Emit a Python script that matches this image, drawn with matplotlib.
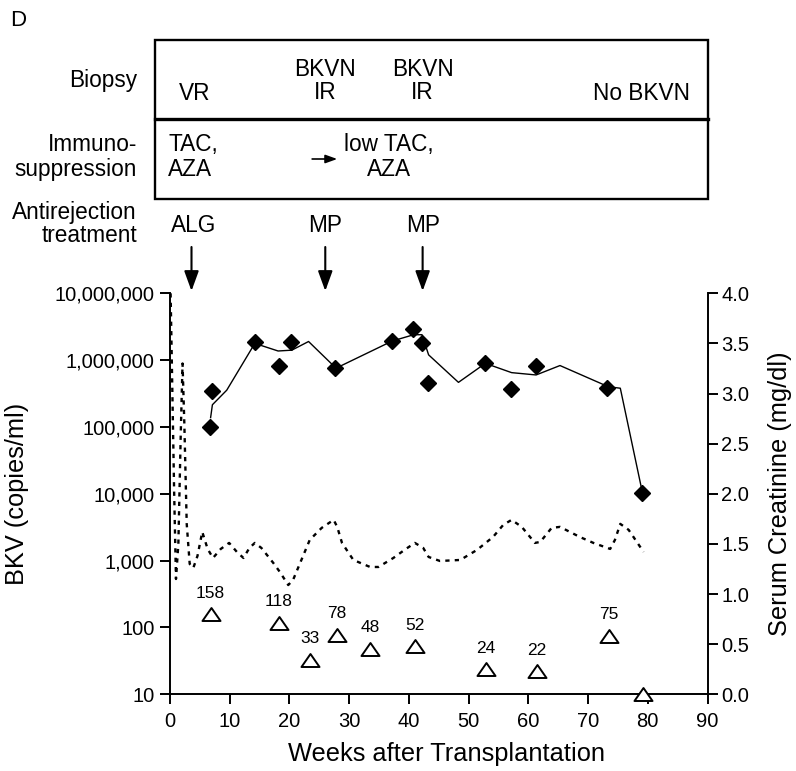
import matplotlib
matplotlib.use("Agg")
import matplotlib.pyplot as plt
from matplotlib.patches import Rectangle
from matplotlib.path import Path
from matplotlib.ticker import FixedLocator, NullLocator

plt.rcParams["font.family"] = ["Liberation Sans", "DejaVu Sans"]

# BKV load in plasma (diamonds) and its trend line
bkv_weeks = [6.7, 7.1, 14.3, 18.2, 20.2, 27.7, 37.2, 40.7, 42.2, 43.2,
             52.7, 57.1, 61.2, 73.2, 79.0]
bkv_copies = [100000, 347000, 1870000, 830000, 1900000, 763000, 1940000,
              2930000, 1830000, 460000, 913000, 370000, 830000, 380000, 10200]

trend_weeks = [6.8, 7.1, 9.5, 14.2, 18.1, 20.4, 23.2, 27.8, 37.2, 40.8, 42.2,
               43.3, 48.3, 52.8, 57.2, 61.3, 65.3, 73.4, 75.4, 79.0]
trend_copies = [138000, 215000, 355000, 1780000, 1370000, 1410000, 1900000,
                758000, 1930000, 2400000, 2400000, 1200000, 465000, 895000,
                650000, 600000, 830000, 400000, 380000, 11500]

# open triangles with their printed values
tri_weeks = [6.8, 18.2, 23.4, 27.9, 33.5, 41.0, 52.9, 61.4, 73.5, 79.2]
tri_values = [158, 118, 33, 78, 48, 52, 24, 22, 75, 10]
tri_labels = ["158", "118", "33", "78", "48", "52", "24", "22", "75", ""]

# serum creatinine (dotted, right axis)
crea_weeks = [0.1, 0.4, 0.7, 1.0, 1.4, 1.8, 2.1, 2.4, 2.8, 3.3, 3.9, 4.6, 5.4,
              6.3, 7.2, 8.5, 9.9, 11.2, 12.3, 13.3, 14.2, 15.3, 17.3, 18.4,
              19.8, 20.6, 22.0, 23.4, 25.4, 27.4, 28.0, 28.8, 30.7, 33.5,
              34.9, 37.4, 39.5, 41.0, 42.4, 43.3, 45.2, 48.6, 51.4, 54.1,
              55.8, 57.2, 58.9, 61.1, 62.0, 63.9, 65.3, 68.6, 70.9, 73.7,
              74.5, 75.4, 76.8, 79.3]
crea_mgdl = [4.0, 3.0, 2.0, 1.15, 1.5, 2.6, 3.3, 2.7, 1.7, 1.3, 1.26, 1.38, 1.62,
             1.45, 1.36, 1.45, 1.51, 1.42, 1.36, 1.46, 1.51, 1.46, 1.31, 1.22,
             1.09, 1.14, 1.34, 1.54, 1.66, 1.74, 1.67, 1.51, 1.34, 1.27,
             1.27, 1.36, 1.45, 1.51, 1.46, 1.37, 1.33, 1.34, 1.44, 1.57,
             1.69, 1.74, 1.67, 1.51, 1.52, 1.66, 1.67, 1.57, 1.51, 1.45,
             1.54, 1.70, 1.64, 1.42]

left_ticks = [10, 100, 1000, 10000, 100000, 1000000, 10000000]
right_ticks = [0.0, 0.5, 1.0, 1.5, 2.0, 2.5, 3.0, 3.5, 4.0]
x_ticks = list(range(0, 91, 10))

# annotation panel content (week positions)
biopsy_labels = ["VR", "BKVN\nIR", "BKVN\nIR", "No BKVN"]
biopsy_weeks = [4.2, 26.0, 42.3, 79.0]
treat_labels = ["ALG", "MP", "MP"]
treat_label_weeks = [3.9, 26.0, 42.3]
treat_arrow_weeks = [3.6, 26.0, 42.3]

W_PX, H_PX = 796, 771
fig = plt.figure(figsize=(W_PX / 100, H_PX / 100), dpi=100)

ax_l, ax_r, ax_t, ax_b = 170, 707.5, 293.3, 694.3
pos = [ax_l / W_PX, 1 - ax_b / H_PX, (ax_r - ax_l) / W_PX, (ax_b - ax_t) / H_PX]
ax = fig.add_axes(pos)
ax.set_xlim(0, 90)
ax.set_yscale("log")
ax.set_ylim(10, 1e7)
ax.yaxis.set_major_locator(FixedLocator(left_ticks))
ax.yaxis.set_minor_locator(NullLocator())
ax.set_yticklabels([f"{v:,}" for v in left_ticks])
ax.set_xticks(x_ticks)
ax.spines["top"].set_visible(False)
ax.spines["right"].set_visible(False)
for s in ("left", "bottom"):
    ax.spines[s].set_linewidth(1.4)
ax.tick_params(labelsize=14.5, length=7, width=1.4, pad=4)
ax.tick_params(axis="x", pad=6)

ax2 = ax.twinx()
ax2.set_ylim(0, 4)
ax2.set_yticks(right_ticks)
ax2.set_yticklabels([f"{v:.1f}" for v in right_ticks])
for s in ("top", "left", "bottom"):
    ax2.spines[s].set_visible(False)
ax2.spines["right"].set_linewidth(1.4)
ax2.tick_params(labelsize=14.5, length=7, width=1.4, pad=3)

ax.plot(trend_weeks, trend_copies, color="black", lw=1.0, zorder=3)
ax.plot(bkv_weeks, bkv_copies, linestyle="none", marker="D", ms=8.5,
        color="black", zorder=4)

tri = Path([(-1, -0.72), (1, -0.72), (0, 0.72), (-1, -0.72)],
           [Path.MOVETO, Path.LINETO, Path.LINETO, Path.CLOSEPOLY])
ax.plot(tri_weeks, tri_values, linestyle="none", marker=tri, ms=13,
        mfc="white", mec="black", mew=1.4, zorder=5, clip_on=False)
for w, v, lab in zip(tri_weeks, tri_values, tri_labels):
    ax.annotate(lab, (w, v), xytext=(0, 15), textcoords="offset points",
                ha="center", va="center", fontsize=12.5)

ax2.plot(crea_weeks, crea_mgdl, color="black", lw=1.7, dashes=(1.8, 2.2))

ax.set_xlabel("Weeks after Transplantation", fontsize=18.3)
ax.xaxis.set_label_coords(0.515, -0.118)
ax.set_ylabel("BKV (copies/ml)", fontsize=18.3)
ax.yaxis.set_label_coords(-0.262, 0.5)
ax2.set_ylabel("Serum Creatinine (mg/dl)", fontsize=18.3)
ax2.yaxis.set_label_coords(1.113, 0.5)

# top annotation panel, x in weeks, y in pixel rows from the top
top = fig.add_axes([pos[0], 1 - ax_t / H_PX, pos[2], ax_t / H_PX])
top.set_xlim(0, 90)
top.set_ylim(ax_t, 0)
top.axis("off")

px_per_week = (ax_r - ax_l) / 90
box_x0 = (155 - ax_l) / px_per_week
box_x1 = (708 - ax_l) / px_per_week
lab_x = (137 - ax_l) / px_per_week
top.add_patch(Rectangle((box_x0, 40), box_x1 - box_x0, 159, fill=False,
                        lw=1.7, ec="black", clip_on=False))
top.plot([box_x0, box_x1], [119, 119], color="black", lw=2.4, clip_on=False)

fs = 16.3
top.text(lab_x, 81, "Biopsy", ha="right", va="center", fontsize=fs)
top.text(lab_x, 157, "Immuno-\nsuppression", ha="right", va="center",
         fontsize=fs, linespacing=1.1)
top.text(lab_x, 224, "Antirejection\ntreatment", ha="right", va="center",
         fontsize=fs, linespacing=1.05)

for lab, w in zip(biopsy_labels, biopsy_weeks):
    y = 81 if "\n" in lab else 93
    top.text(w, y, lab, ha="center", va="center", fontsize=fs, linespacing=1.05)

top.text(-0.3, 157, "TAC,\nAZA", ha="left", va="center", fontsize=fs,
         linespacing=1.1)
top.text(36.7, 157, "low TAC,\nAZA", ha="center", va="center", fontsize=fs,
         linespacing=1.1)
top.annotate("", xy=(28.0, 159), xytext=(23.8, 159),
             arrowprops=dict(arrowstyle="-|>,head_length=0.5,head_width=0.18",
                             mutation_scale=14, lw=1.2, color="black",
                             shrinkA=0, shrinkB=0))

for lab, w in zip(treat_labels, treat_label_weeks):
    top.text(w, 225, lab, ha="center", va="center", fontsize=fs)
for w in treat_arrow_weeks:
    top.annotate("", xy=(w, 291), xytext=(w, 247),
                 arrowprops=dict(arrowstyle="-|>,head_length=0.55,head_width=0.2",
                                 mutation_scale=22, lw=1.5, color="black",
                                 shrinkA=0, shrinkB=0))

fig.text(10 / W_PX, 1 - 20 / H_PX, "D", ha="left", va="center", fontsize=16)

fig.savefig("out.png", dpi=100)
